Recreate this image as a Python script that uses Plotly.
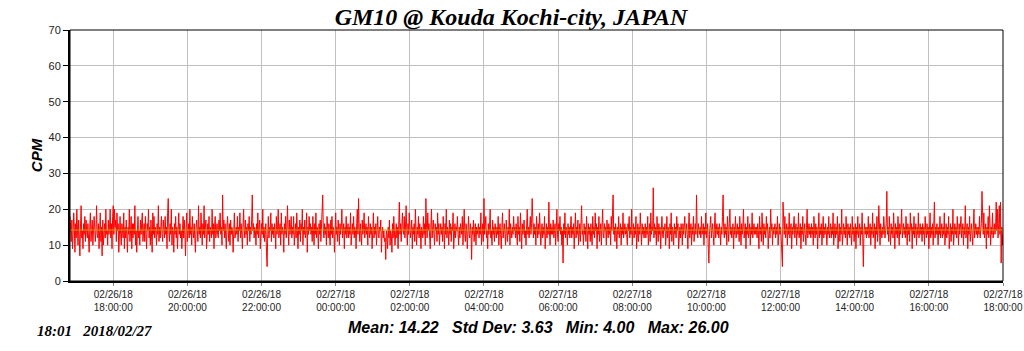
import plotly.graph_objects as go
import pandas as pd

start_time = "2018-02-26 16:50:00"
cpm_rows = [
"18 14 11 17 9 13 19 15 8 16 12 20 14 10 17 13 7 15 21 12 14 9 16 13 18 11 17 14 12 16",
"13 8 15 19 11 14 17 10 13 18 15 11 14 21 13 12 16 9 14 19 11 15 7 17 10 14 16 12 20 13",
"14 10 17 13 15 20 12 16 9 18 21 13 20 15 17 11 19 14 16 8 15 18 13 10 16 14 12 19 9 15",
"12 17 14 8 15 13 20 11 14 18 9 16 12 16 13 21 10 14 8 15 18 12 14 10 17 13 15 19 11 14",
"16 11 18 13 9 16 14 20 12 15 10 17 14 8 19 13 18 12 15 14 10 16 13 21 11 15 12 14 18 13",
"11 17 14 12 18 13 15 9 19 23 14 11 16 13 20 10 15 14 8 16 13 18 12 15 9 14 19 13 16 12",
"14 9 15 18 12 17 13 7 15 19 11 14 16 12 20 13 15 10 18 14 12 16 13 8 15 17 14 11 21 13",
"15 12 19 14 10 16 13 21 12 15 17 9 14 16 13 18 11 15 14 12 20 13 16 9 15 18 12 14 16 13",
"12 17 14 19 13 15 10 24 14 17 12 16 13 9 15 18 14 11 16 10 17 13 15 14 8 16 19 12 14 15",
"13 18 11 15 14 19 12 16 13 9 15 20 14 12 17 13 15 10 16 14 18 11 15 13 17 24 14 16 12 15",
"14 10 16 13 19 12 15 17 9 14 16 13 20 12 15 11 14 16 8 4 13 18 12 15 14 19 11 16 13 15",
"12 16 14 9 18 13 15 20 12 14 16 10 19 13 15 14 8 16 13 18 12 15 21 14 10 17 13 15 18 12",
"15 13 18 10 14 16 12 19 14 9 15 13 17 11 16 14 20 10 15 13 17 12 14 19 8 15 13 18 14 16",
"13 15 11 18 14 10 16 13 19 12 15 14 9 16 13 17 11 15 20 24 14 12 16 13 15 10 18 14 12 16",
"14 10 17 13 18 12 15 14 8 16 19 13 15 11 17 14 10 16 13 15 20 12 14 16 9 15 13 18 12 14",
"16 12 15 13 19 10 14 16 13 18 12 15 14 9 16 20 13 23 15 11 16 14 10 17 13 15 19 12 14 16",
"13 15 10 18 14 12 16 13 15 9 14 19 12 15 13 16 10 14 18 13 12 15 14 17 8 13 15 12 14 11",
"12 6 14 13 9 15 12 17 10 14 13 8 16 12 18 14 10 13 16 12 15 9 14 22 13 16 11 15 19 14",
"13 18 12 15 21 14 10 16 13 19 15 12 14 17 9 15 13 16 11 20 14 10 15 13 18 12 16 14 9 15",
"14 12 18 13 16 10 23 15 12 19 14 16 13 9 15 20 12 14 17 13 10 16 14 15 11 19 13 16 10 14",
"16 13 15 11 18 14 9 16 13 20 12 15 14 10 17 13 16 11 15 14 19 9 13 16 12 15 14 18 13 10",
"15 12 16 14 13 18 10 15 20 13 11 16 14 9 15 18 13 12 16 14 6 15 13 17 11 14 16 10 15 13",
"14 16 12 15 13 19 10 14 16 11 23 13 15 18 12 14 9 16 13 15 20 12 14 10 17 13 15 11 16 14",
"12 15 13 18 10 14 16 13 9 15 19 12 14 16 13 10 17 14 11 15 13 20 10 16 14 12 15 13 18 14",
"15 12 16 14 10 18 13 15 11 19 14 9 16 13 15 17 12 14 10 16 20 13 15 12 14 18 13 16 23 14",
"12 16 13 15 10 18 14 12 16 13 19 15 10 14 16 12 15 13 18 9 14 16 12 15 13 22 14 10 16 13",
"15 13 17 12 14 16 10 15 20 13 11 16 14 18 13 15 10 14 5 16 13 19 12 15 14 10 16 13 15 12",
"14 18 12 15 13 16 9 14 19 12 15 13 17 10 14 16 11 15 21 13 14 10 16 13 15 11 18 14 9 16",
"13 15 11 16 14 10 18 13 15 12 19 14 16 9 15 13 18 11 14 16 10 15 20 13 12 16 14 15 10 17",
"14 12 16 13 15 10 18 14 19 24 13 15 11 16 14 9 15 13 18 12 14 16 10 15 13 19 12 14 16 13",
"15 13 10 16 14 18 12 15 13 20 10 14 16 12 15 13 18 9 14 16 11 15 13 19 14 10 16 13 15 12",
"14 16 12 15 13 18 10 14 16 11 19 13 15 14 26 12 16 13 15 10 18 14 11 16 13 15 9 14 18 13",
"12 15 14 16 10 13 18 12 15 14 9 16 13 19 11 15 14 10 16 13 15 12 18 14 16 9 13 15 12 16",
"14 10 16 13 15 18 12 14 16 13 9 15 19 12 14 16 10 15 13 18 11 14 16 13 24 15 12 16 14 13",
"15 12 18 13 14 16 10 15 13 19 12 14 16 9 5 13 15 18 12 14 16 13 10 15 19 12 14 16 13 15",
"12 16 14 10 15 13 18 24 14 12 16 13 15 10 18 14 11 16 20 13 15 12 14 16 9 15 13 18 12 14",
"16 13 15 11 18 14 10 16 13 15 20 12 14 16 9 15 13 18 12 14 16 10 15 13 19 12 14 16 13 15",
"13 15 12 16 14 9 18 13 15 11 19 14 10 16 13 15 12 18 14 16 9 13 15 12 20 14 16 10 15 13",
"14 16 12 15 13 18 10 14 16 13 15 12 8 4 22 15 13 18 12 14 16 10 15 13 19 12 14 16 9 15",
"13 15 18 12 14 16 10 15 13 19 12 14 16 9 15 13 18 11 14 16 13 10 15 20 12 14 16 13 15 12",
"16 13 15 10 18 14 12 16 13 15 9 14 19 12 15 13 16 10 14 18 12 15 13 16 14 10 15 13 18 12",
"14 16 12 15 13 19 10 14 16 12 15 13 18 9 14 16 11 15 13 20 10 14 16 13 15 12 18 14 10 16",
"13 15 12 16 14 10 18 13 15 11 14 16 9 15 13 18 12 14 16 10 15 13 19 12 4 14 16 13 15 12",
"15 13 18 12 14 16 10 15 13 19 12 14 16 9 15 13 18 11 14 21 13 10 16 14 12 15 13 18 14 12",
"14 16 25 13 15 11 18 14 10 16 13 15 12 19 14 9 16 13 15 12 18 14 10 16 13 15 20 12 14 16",
"13 15 12 18 14 10 16 13 15 11 19 14 16 9 15 13 18 12 14 16 10 15 13 19 12 14 16 13 15 11",
"16 13 15 10 18 14 12 16 13 15 9 14 19 12 15 13 16 10 14 22 12 15 13 16 14 10 15 13 18 12",
"14 16 12 15 13 19 10 14 16 12 15 13 18 9 14 16 11 15 13 20 10 14 16 13 15 12 18 14 10 16",
"13 15 18 12 14 16 10 15 13 21 12 14 16 9 15 13 18 11 14 16 13 10 15 20 12 14 16 13 15 12",
"15 13 18 12 14 16 25 15 13 19 12 14 16 9 15 13 18 12 21 16 10 15 13 19 12 14 16 13 15 22",
"14 20 12 16 21 13 22 5 15 10 13",
]
cpm = [int(v) for row in cpm_rows for v in row.split()]
times = pd.date_range(start_time, periods=len(cpm), freq="1min")

title_text = "GM10 @ Kouda Kochi-city, JAPAN"
stamp_text = "18:01&nbsp;&nbsp;&nbsp;2018/02/27"
stat_names = ["Mean", "Std Dev", "Min", "Max"]
stat_values = [14.22, 3.63, 4.00, 26.00]
x_range = ["2018-02-26 16:50:00", "2018-02-27 18:00:00"]
tick_start = "2018-02-26 18:00:00"
y_ticks = [0, 10, 20, 30, 40, 50, 60, 70]

fig = go.Figure()
fig.add_trace(go.Scatter(x=times, y=cpm, mode="lines",
                         line=dict(color="#ff0000", width=1), showlegend=False))
fig.add_trace(go.Scatter(x=[times[0], times[-1]], y=[stat_values[0]] * 2, mode="lines",
                         line=dict(color="#b8a400", width=1), showlegend=False))

stats_str = "&nbsp;&nbsp;&nbsp;".join(f"{n}: {v:.2f}" for n, v in zip(stat_names, stat_values))

fig.update_layout(
    width=1024, height=351,
    margin=dict(l=70, r=21, t=30, b=70, autoexpand=False),
    paper_bgcolor="white", plot_bgcolor="white",
    title=dict(text=f"<b><i>{title_text}</i></b>", x=(511 - 0) / 1024, xanchor="center",
               y=1 - 17 / 351, yanchor="middle",
               font=dict(family="Liberation Serif", size=24, color="black")),
    xaxis=dict(range=x_range, tick0=tick_start, dtick=2 * 3600 * 1000, automargin=False,
               tickformat="%m/%d/%y<br>%H:%M:%S", ticks="outside", ticklen=3,
               tickcolor="#888", showgrid=True, gridcolor="#c0c0c0", gridwidth=1,
               showline=True, linecolor="black", linewidth=2, zeroline=False,
               tickfont=dict(family="Liberation Sans", size=10, color="#222")),
    yaxis=dict(range=[0, 70], tickvals=y_ticks, ticks="outside", ticklen=5, automargin=False,
               tickcolor="black", showgrid=True, gridcolor="#c0c0c0", gridwidth=1,
               showline=True, linecolor="black", linewidth=2, zeroline=False,
               tickfont=dict(family="Liberation Sans", size=11, color="#222"),
               title=dict(text="<b><i>CPM</i></b>", standoff=2,
                          font=dict(family="Liberation Sans", size=15, color="black"))),
    shapes=[dict(type="rect", xref="paper", yref="paper", x0=0, y0=0, x1=1, y1=1,
                 line=dict(color="black", width=1), layer="above")],
    annotations=[
        dict(text=f"<b><i>{stamp_text}</i></b>", xref="paper", yref="paper",
             x=-35 / 933, y=-50 / 251, xanchor="left", yanchor="middle", showarrow=False,
             font=dict(family="Liberation Serif", size=15, color="black")),
        dict(text=f"<b><i>{stats_str}</i></b>", xref="paper", yref="paper",
             x=(538 - 70) / 933, y=-46 / 251, xanchor="center", yanchor="middle",
             showarrow=False,
             font=dict(family="Liberation Sans", size=16, color="black")),
    ],
)

fig.write_html("out.html")
